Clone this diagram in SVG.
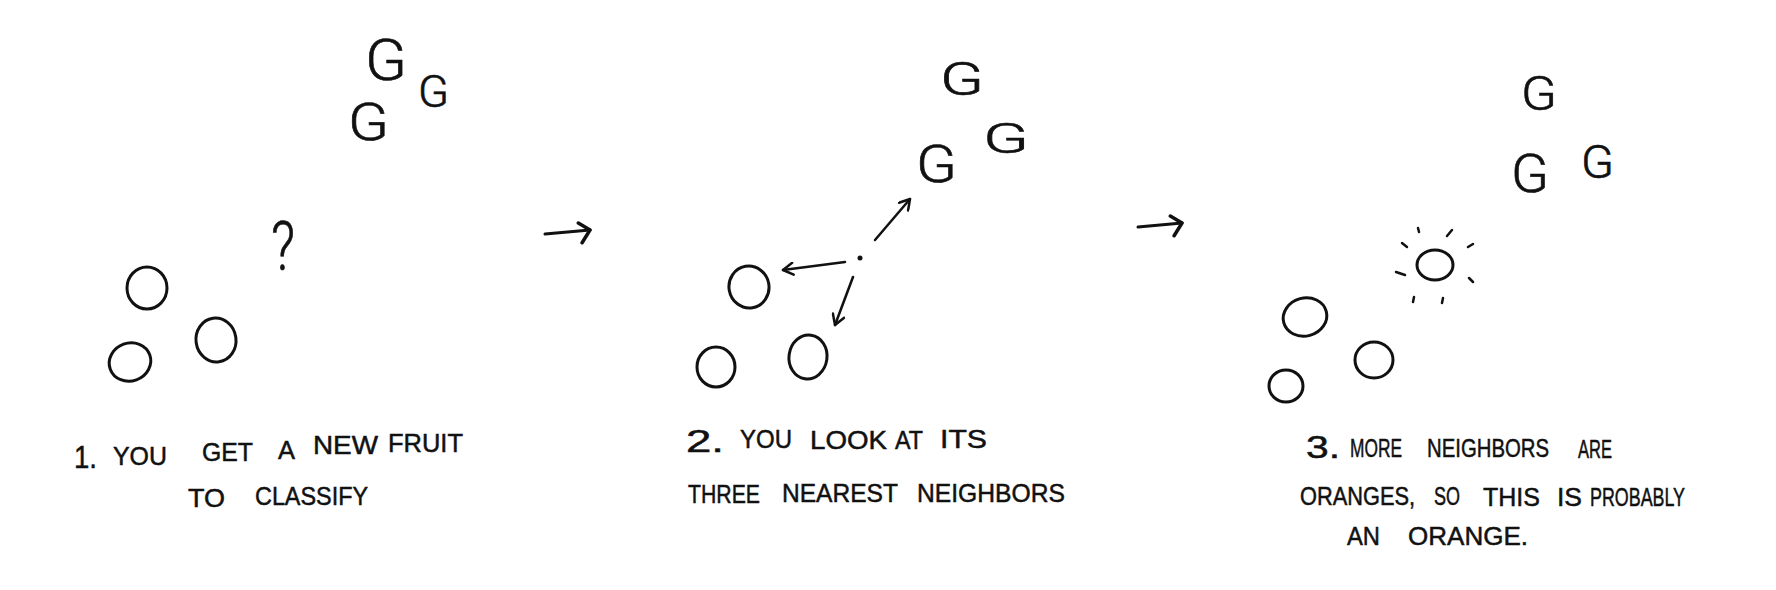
<svg xmlns="http://www.w3.org/2000/svg" width="1776" height="590" viewBox="0 0 1776 590">
<style>
.o{fill:none;stroke:#111;stroke-width:3}
.g{font-family:Roboto,"Liberation Sans",sans-serif;font-weight:300;fill:#111;stroke:#111;stroke-width:0.6}
.t{font-family:"Liberation Sans",Arial,sans-serif;font-size:26px;fill:#111;stroke:#111;stroke-width:0.5}
.n{font-family:"Liberation Sans",Arial,sans-serif;font-size:32px;fill:#111;stroke:#111;stroke-width:0.5}
.a{fill:none;stroke:#111;stroke-width:2.5;stroke-linecap:round;marker-end:url(#ah)}
.a2{fill:none;stroke:#111;stroke-width:3;stroke-linecap:round;marker-end:url(#ah2)}
.r{stroke:#111;stroke-width:2.5;stroke-linecap:round}
</style>
<defs>
<marker id="ah" viewBox="0 0 14 14" refX="12" refY="7" markerWidth="14" markerHeight="14" markerUnits="userSpaceOnUse" orient="auto">
<path d="M2,1 L12,7 L2,13" fill="none" stroke="#111" stroke-width="2.5" stroke-linecap="round" stroke-linejoin="round"/>
</marker>
<marker id="ah2" viewBox="0 0 16 24" refX="14" refY="10" markerWidth="16" markerHeight="24" markerUnits="userSpaceOnUse" orient="auto">
<path d="M3,2 L14,10 L5,22" fill="none" stroke="#111" stroke-width="3.5" stroke-linecap="round" stroke-linejoin="round"/>
</marker>
</defs>
<rect width="1776" height="590" fill="#fff"/>

<!-- Panel 1 -->
<g id="p1-g1"><text class="g" x="365" y="80" font-size="58" textLength="42" lengthAdjust="spacingAndGlyphs">G</text></g>
<g id="p1-g2"><text class="g" x="418" y="107" font-size="44" textLength="31" lengthAdjust="spacingAndGlyphs">G</text></g>
<g id="p1-g3"><text class="g" x="348" y="140" font-size="52" textLength="41" lengthAdjust="spacingAndGlyphs">G</text></g>
<g id="p1-q"><text class="g" x="271" y="270" font-size="68" textLength="24" lengthAdjust="spacingAndGlyphs">?</text></g>
<g id="p1-o1"><ellipse class="o" cx="147" cy="288" rx="20" ry="21"/></g>
<g id="p1-o2"><ellipse class="o" cx="216" cy="340" rx="20" ry="22" transform="rotate(-8 216 340)"/></g>
<g id="p1-o3"><ellipse class="o" cx="130" cy="362" rx="21" ry="19" transform="rotate(-20 130 362)"/></g>
<g id="p1-label">
<text class="n" x="74" y="468" textLength="23" lengthAdjust="spacingAndGlyphs">1.</text>
<text class="t" x="113" y="465" textLength="54" lengthAdjust="spacingAndGlyphs">YOU</text>
<text class="t" x="202" y="461" textLength="51" lengthAdjust="spacingAndGlyphs">GET</text>
<text class="t" x="278" y="459" textLength="17" lengthAdjust="spacingAndGlyphs">A</text>
<text class="t" x="313" y="454" textLength="65" lengthAdjust="spacingAndGlyphs">NEW</text>
<text class="t" x="388" y="452" textLength="75" lengthAdjust="spacingAndGlyphs">FRUIT</text>
<text class="t" x="188" y="507" textLength="37" lengthAdjust="spacingAndGlyphs">TO</text>
<text class="t" x="255" y="505" textLength="113" lengthAdjust="spacingAndGlyphs">CLASSIFY</text>
</g>

<!-- Panel 2 -->
<g id="p2-g1"><text class="g" x="940" y="95" font-size="46" textLength="44" lengthAdjust="spacingAndGlyphs">G</text></g>
<g id="p2-g2"><text class="g" x="983" y="153" font-size="43" textLength="46" lengthAdjust="spacingAndGlyphs">G</text></g>
<g id="p2-g3"><text class="g" x="916" y="182" font-size="51" textLength="41" lengthAdjust="spacingAndGlyphs">G</text></g>
<g id="p2-dot"><circle cx="860" cy="258" r="2.5" fill="#111"/></g>
<g id="p2-o1"><ellipse class="o" cx="749" cy="287" rx="20" ry="21" transform="rotate(-10 749 287)"/></g>
<g id="p2-o2"><ellipse class="o" cx="808" cy="357" rx="19" ry="22" transform="rotate(8 808 357)"/></g>
<g id="p2-o3"><ellipse class="o" cx="716" cy="367" rx="19" ry="20"/></g>
<g id="p2-label">
<text class="n" x="686" y="452" textLength="38" lengthAdjust="spacingAndGlyphs">2.</text>
<text class="t" x="740" y="448" textLength="52" lengthAdjust="spacingAndGlyphs">YOU</text>
<text class="t" x="810" y="449" textLength="77" lengthAdjust="spacingAndGlyphs">LOOK</text>
<text class="t" x="895" y="449" textLength="28" lengthAdjust="spacingAndGlyphs">AT</text>
<text class="t" x="940" y="448" textLength="47" lengthAdjust="spacingAndGlyphs">ITS</text>
<text class="t" x="688" y="503" textLength="72" lengthAdjust="spacingAndGlyphs">THREE</text>
<text class="t" x="782" y="502" textLength="116" lengthAdjust="spacingAndGlyphs">NEAREST</text>
<text class="t" x="917" y="502" textLength="148" lengthAdjust="spacingAndGlyphs">NEIGHBORS</text>
</g>

<!-- Panel 3 -->
<g id="p3-g1"><text class="g" x="1521" y="110" font-size="49" textLength="36" lengthAdjust="spacingAndGlyphs">G</text></g>
<g id="p3-g2"><text class="g" x="1511" y="192" font-size="53" textLength="38" lengthAdjust="spacingAndGlyphs">G</text></g>
<g id="p3-g3"><text class="g" x="1581" y="178" font-size="46" textLength="33" lengthAdjust="spacingAndGlyphs">G</text></g>
<g id="p3-new">
<ellipse class="o" cx="1435" cy="265" rx="18" ry="15"/>
<line class="r" x1="1418" y1="228" x2="1419" y2="232"/>
<line class="r" x1="1447" y1="236" x2="1452" y2="230"/>
<line class="r" x1="1468" y1="247" x2="1473" y2="244"/>
<line class="r" x1="1402" y1="243" x2="1407" y2="247"/>
<line class="r" x1="1396" y1="272" x2="1405" y2="275"/>
<line class="r" x1="1469" y1="278" x2="1473" y2="282"/>
<line class="r" x1="1413" y1="302" x2="1414" y2="297"/>
<line class="r" x1="1442" y1="303" x2="1443" y2="298"/>
</g>
<g id="p3-o1"><ellipse class="o" cx="1305" cy="317" rx="22" ry="19" transform="rotate(-15 1305 317)"/></g>
<g id="p3-o2"><ellipse class="o" cx="1374" cy="360" rx="19" ry="18"/></g>
<g id="p3-o3"><ellipse class="o" cx="1286" cy="386" rx="17" ry="16"/></g>
<g id="p3-label">
<text class="n" x="1306" y="458" textLength="34" lengthAdjust="spacingAndGlyphs">3.</text>
<text class="t" x="1350" y="457" font-size="22" textLength="52" lengthAdjust="spacingAndGlyphs">MORE</text>
<text class="t" x="1427" y="457" font-size="21" textLength="122" lengthAdjust="spacingAndGlyphs">NEIGHBORS</text>
<text class="t" x="1578" y="458" textLength="34" lengthAdjust="spacingAndGlyphs">ARE</text>
<text class="t" x="1300" y="505" font-size="22" textLength="115" lengthAdjust="spacingAndGlyphs">ORANGES,</text>
<text class="t" x="1434" y="505" font-size="21" textLength="26" lengthAdjust="spacingAndGlyphs">SO</text>
<text class="t" x="1483" y="506" textLength="57" lengthAdjust="spacingAndGlyphs">THIS</text>
<text class="t" x="1557" y="506" textLength="25" lengthAdjust="spacingAndGlyphs">IS</text>
<text class="t" x="1590" y="506" textLength="95" lengthAdjust="spacingAndGlyphs">PROBABLY</text>
<text class="t" x="1347" y="545" textLength="33" lengthAdjust="spacingAndGlyphs">AN</text>
<text class="t" x="1408" y="545" textLength="120" lengthAdjust="spacingAndGlyphs">ORANGE.</text>
</g>

<!-- Connectors -->
<g id="connectors">
<line class="a" x1="875" y1="240" x2="910" y2="199"/>
<line class="a" x1="845" y1="262" x2="783" y2="270"/>
<line class="a" x1="853" y1="277" x2="835" y2="325"/>
<line class="a2" x1="545" y1="234" x2="590" y2="230"/>
<line class="a2" x1="1138" y1="227" x2="1182" y2="223"/>
</g>
</svg>
